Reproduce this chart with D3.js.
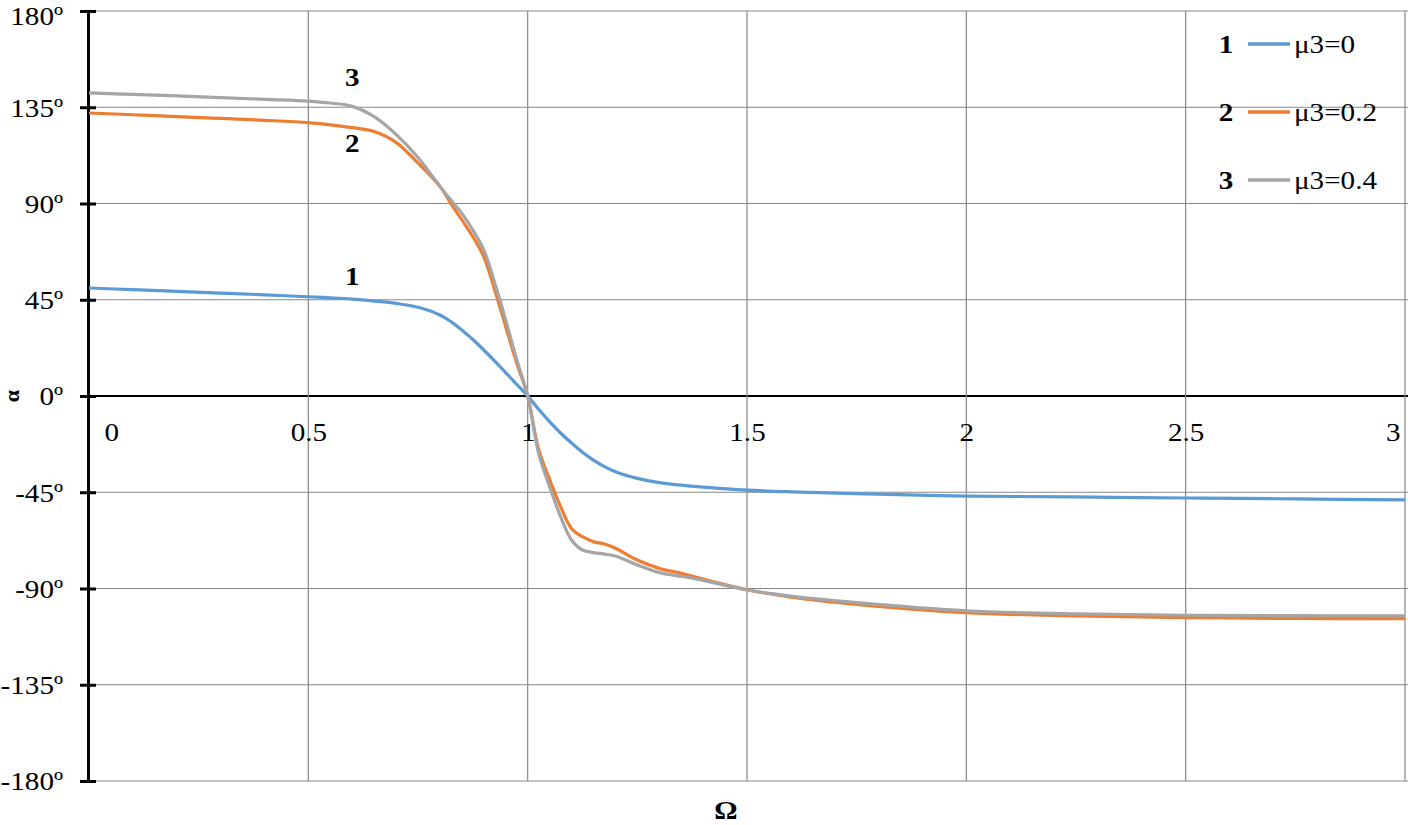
<!DOCTYPE html>
<html><head><meta charset="utf-8">
<script src="https://cdn.jsdelivr.net/npm/d3@7"></script>
<style>
html,body{margin:0;padding:0;background:#fff;}
svg{display:block;font-family:"Liberation Serif","Times New Roman",serif;}
</style></head>
<body>
<svg id="chart" width="1408" height="825"></svg>
<script>
const omega = [0,0.1,0.2,0.3,0.4,0.5,0.55,0.6,0.65,0.7,0.75,0.8,0.825,0.85,0.875,0.9,0.925,0.95,0.975,1,
  1.025,1.05,1.075,1.1,1.125,1.15,1.175,1.2,1.25,1.3,1.35,1.4,1.5,1.6,1.75,2,2.25,2.5,2.75,3];
const mu0  = [50.5,49.7,48.9,48.1,47.3,46.4,45.9,45.3,44.4,43.3,41.5,37.9,34.8,30.9,26.4,21.5,16.3,10.9,5.4,0,
  -6.2,-12,-17.3,-22,-26.3,-30,-33,-35.4,-38.5,-40.5,-41.7,-42.6,-44,-44.8,-45.6,-46.8,-47.2,-47.7,-48.1,-48.6];
const mu02 = [132.3,131.5,130.6,129.8,128.9,127.8,126.8,125.5,123.7,118.6,108.9,98,90,82.3,74.5,65.1,49.6,32.4,15.4,0,
  -25,-39,-51.7,-62,-65.8,-68.1,-69.2,-71.2,-76.7,-80.6,-82.9,-85.6,-90.5,-94,-97.4,-101.3,-102.8,-103.6,-104,-104.1];
const mu04 = [141.7,141,140.3,139.5,138.7,137.9,137,135.4,130.6,122.3,111.5,98,91.6,85.4,77.6,68.3,52.8,35.5,17,0,
  -26.8,-42.4,-56.4,-67.3,-72,-73.2,-73.9,-74.8,-79,-82.6,-84.3,-86.2,-90.7,-93.6,-96.6,-100.4,-101.9,-102.5,-102.7,-102.8];
const seriesNames = ["μ3=0","μ3=0.2","μ3=0.4"];
const seriesNums = ["1","2","3"];
const seriesColors = ["#5B9BD5","#ED7D31","#A5A5A5"];
const xTicks = [0,0.5,1,1.5,2,2.5,3];
const xTickLabels = ["0","0.5","1","1.5","2","2.5","3"];
const yTicks = [-180,-135,-90,-45,0,45,90,135,180];
const yTickLabels = ["-180º","-135º","-90º","-45º","0º","45º","90º","135º","180º"];
// curve label anchors (data coords)
const curveLabelPos = [[0.6,56],[0.6,118],[0.6,149]];

const series = [mu0, mu02, mu04];
const svg = d3.select("#chart");
const x = d3.scaleLinear().domain([0,3]).range([89,1405]);
const y = d3.scaleLinear().domain([-180,180]).range([781,11]);
const FS = 26;
const STRETCH = 1.12;

// gridlines
const g = svg.append("g");
g.selectAll("line.h").data(yTicks).join("line")
  .attr("x1",89).attr("x2",1408).attr("y1",d=>y(d)).attr("y2",d=>y(d))
  .attr("stroke",d=>d===0?"#000":"#878787").attr("stroke-width",d=>d===0?2:1.2);
g.selectAll("line.v").data(xTicks.slice(1)).join("line")
  .attr("x1",d=>x(d)).attr("x2",d=>x(d)).attr("y1",y(180)).attr("y2",y(-180))
  .attr("stroke","#878787").attr("stroke-width",1.2);

// y axis
const yAxis = d3.axisLeft(y).tickValues(yTicks).tickSize(0).tickFormat((d,i)=>yTickLabels[i]);
const ya = svg.append("g").attr("transform","translate(88,0)").call(yAxis);
ya.attr("font-family",null).attr("font-size",null);
ya.select(".domain").attr("stroke","#000").attr("stroke-width",3);
ya.selectAll(".tick text").attr("class","st").attr("x",-25).attr("font-size",FS).attr("fill","#000")
  .attr("dy",d=>d===180?"0.5em":"0.34em");
ya.selectAll(".tick").append("line").attr("x1",-8).attr("x2",8).attr("stroke","#000").attr("stroke-width",3);

// x axis labels (placed at zero line)
const xAxis = d3.axisBottom(x).tickValues(xTicks).tickSize(0).tickFormat((d,i)=>xTickLabels[i]);
const xa = svg.append("g").attr("transform",`translate(0,${y(0)})`).call(xAxis);
xa.attr("font-family",null).attr("font-size",null);
xa.select(".domain").remove();
xa.selectAll(".tick text").attr("class","st").attr("font-size",FS).attr("fill","#000")
  .attr("y",36).attr("dy","0.34em")
  .attr("text-anchor",(d,i)=> i===0?"start":(i===xTicks.length-1?"end":"middle"))
  .attr("dx",(d,i)=> i===0?15:(i===xTicks.length-1?-5:0));

// lines
const line = d3.line().x((d,i)=>x(omega[i])).y(d=>y(d)).curve(d3.curveCatmullRom.alpha(0.5));
series.forEach((s,k)=>{
  svg.append("path").attr("d",line(s)).attr("fill","none")
    .attr("stroke",seriesColors[k]).attr("stroke-width",3.2).attr("stroke-linejoin","round");
});

// curve number labels
curveLabelPos.forEach((p,k)=>{
  svg.append("text").attr("class","st").attr("x",x(p[0])).attr("y",y(p[1])).attr("text-anchor","middle")
    .attr("dy","0.34em").attr("font-size",FS).attr("font-weight","bold").text(seriesNums[k]);
});

// legend
const leg = svg.append("g");
seriesNames.forEach((n,k)=>{
  const ly = 44 + k*68;
  leg.append("text").attr("class","st").attr("x",1226).attr("y",ly).attr("dy","0.34em").attr("text-anchor","middle")
    .attr("font-size",FS).attr("font-weight","bold").text(seriesNums[k]);
  leg.append("line").attr("x1",1248).attr("x2",1290).attr("y1",ly).attr("y2",ly)
    .attr("stroke",seriesColors[k]).attr("stroke-width",3.5);
  leg.append("text").attr("class","st").attr("x",1294).attr("y",ly).attr("dy","0.34em")
    .attr("font-size",FS).text(n);
});

// axis titles
svg.append("text").attr("transform",`translate(11,${y(0)}) rotate(-90)`).attr("text-anchor","middle")
  .attr("dominant-baseline","central").attr("font-size",22).attr("font-weight","bold").text("α");
svg.append("text").attr("class","st").attr("x",726).attr("y",819).attr("text-anchor","middle")
  .attr("font-size",FS).attr("font-weight","bold").text("Ω");

// horizontal stretch of text, as in the reference
svg.selectAll("text.st").each(function(){
  const L = this.getComputedTextLength();
  d3.select(this).attr("textLength",L*STRETCH).attr("lengthAdjust","spacingAndGlyphs");
});
</script>
</body></html>
